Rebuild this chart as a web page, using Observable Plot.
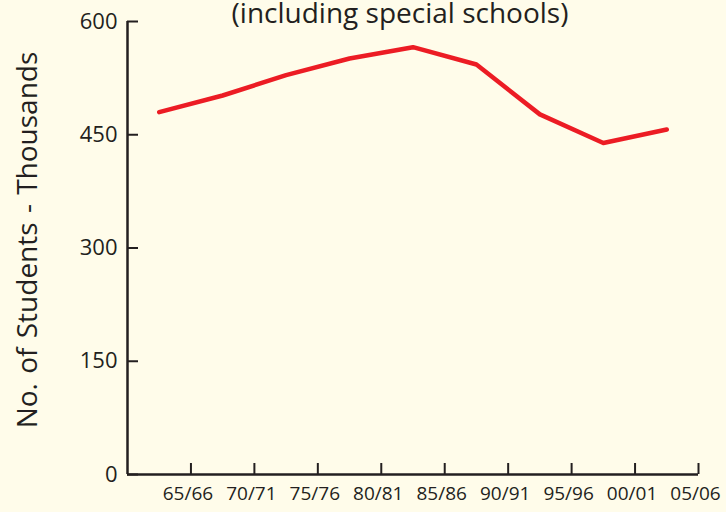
<!DOCTYPE html>
<html><head><meta charset="utf-8">
<script src="https://cdn.jsdelivr.net/npm/d3@7"></script>
<script src="https://cdn.jsdelivr.net/npm/@observablehq/plot@0.6"></script>
<style>
html,body{margin:0;padding:0;background:#fffcea;}
#wrap{position:relative;width:726px;height:512px;overflow:hidden;font-family:"Open Sans",sans-serif;color:#231f20;}
#title{position:absolute;left:0;width:800px;text-align:center;top:-2px;font-size:28px;line-height:28px;white-space:nowrap;}
#ylab{position:absolute;left:26px;top:240px;transform:translate(-50%,-50%) rotate(-90deg);white-space:nowrap;font-size:28px;line-height:28px;word-spacing:2px;}
#chart{position:absolute;left:0;top:0;}
</style></head><body>
<div id="wrap"><div id="chart"></div><div id="title">(including special schools)</div><div id="ylab">No. of Students - Thousands</div></div>
<script>
const years = [1962.5, 1967.5, 1972.5, 1977.5, 1982.5, 1987.5, 1992.5, 1997.5, 2002.5];
const students = [480, 502, 529, 551, 566, 543, 477, 439, 457];
const tickYears = [1965, 1970, 1975, 1980, 1985, 1990, 1995, 2000, 2005];
const tickLabels = ["65/66", "70/71", "75/76", "80/81", "85/86", "90/91", "95/96", "00/01", "05/06"];
const yTicks = [0, 150, 300, 450, 600];

const labelMap = new Map(tickYears.map((d, i) => [d, tickLabels[i]]));
const data = years.map((d, i) => ({year: d, value: students[i]}));

const chart = Plot.plot({
  width: 726, height: 512,
  marginLeft: 127, marginRight: 28, marginTop: 21, marginBottom: 38,
  style: {background: "transparent", fontFamily: "Open Sans, sans-serif", color: "#231f20", overflow: "visible"},
  x: {domain: [1960, 2005]},
  y: {domain: [0, 600]},
  marks: [
    Plot.axisY(yTicks, {tickSize: 0, tickPadding: 10, fontSize: 22, label: null}),
    Plot.axisY(yTicks, {tickSize: 11, dx: 11, fill: "none", strokeWidth: 2, label: null}),
    Plot.axisX(tickYears, {tickSize: 0, tickPadding: 12, dx: -3, fontSize: 19, tickFormat: d => labelMap.get(d), label: null}),
    Plot.axisX(tickYears, {tickSize: 11, dy: -11, fill: "none", strokeWidth: 2, label: null}),
    Plot.ruleX([1960], {strokeWidth: 2.5, stroke: "#231f20"}),
    Plot.ruleY([0], {strokeWidth: 2.5, stroke: "#231f20"}),
    Plot.line(data, {x: "year", y: "value", stroke: "#ec1c24", strokeWidth: 4.5, strokeLinecap: "round", strokeLinejoin: "round"})
  ]
});
document.getElementById("chart").appendChild(chart);
</script>
</body></html>
